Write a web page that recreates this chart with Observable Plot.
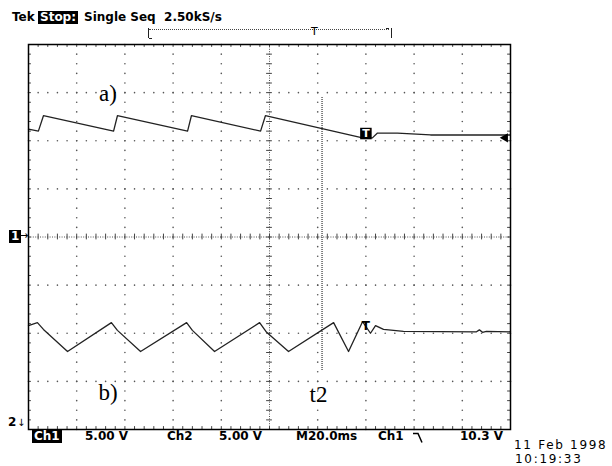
<!DOCTYPE html>
<html><head><meta charset="utf-8">
<script src="https://cdn.jsdelivr.net/npm/d3@7"></script>
<script src="https://cdn.jsdelivr.net/npm/@observablehq/plot@0.6"></script>
<style>
body{margin:0;background:#fff}
#wrap{position:relative;width:612px;height:466px;overflow:hidden;font-family:"DejaVu Sans",sans-serif;font-size:13px;color:#000;background:#fff}
#chart{position:absolute;left:0;top:0}
.t{position:absolute;white-space:pre;line-height:13px}
.b{font-weight:bold;font-size:12px}
.inv{background:#000;color:#fff;padding:0 2px}
.d{font-size:12px;line-height:12px;letter-spacing:1.7px}
</style></head>
<body><div id="wrap"><div id="chart"></div>
<div class="t b" style="left:12px;top:11px">Tek</div>
<div class="t b inv" style="left:38px;top:11px">Stop:</div>
<div class="t b" style="left:84px;top:11px">Single Seq  2.50kS/s</div>
<div style="position:absolute;left:148px;top:28px;width:242px;height:10px;border-left:1px solid #222;border-right:1px solid #222"></div>
<div style="position:absolute;left:149px;top:29px;width:240px;border-top:1px dotted #444"></div>
<div style="position:absolute;left:149px;top:38px;width:3px;border-top:1px solid #222"></div>
<div style="position:absolute;left:386px;top:28px;width:3px;border-top:1px solid #222"></div>
<div class="t" style="left:311px;top:25px;font-size:11px">T</div>
<div class="t b inv" style="left:9px;top:230px;padding:0 2px">1</div>
<div class="t" style="left:19px;top:229px;font-size:11px">→</div>
<div class="t b" style="left:8px;top:416px">2</div>
<div class="t" style="left:17px;top:416px;font-size:10px">↓</div>
<div class="t b inv" style="left:32px;top:430px">Ch1</div>
<div class="t b" style="left:85px;top:430px">5.00 V</div>
<div class="t b" style="left:167px;top:430px">Ch2</div>
<div class="t b" style="left:219px;top:430px">5.00 V</div>
<div class="t b" style="left:296px;top:430px">M20.0ms</div>
<div class="t b" style="left:378px;top:430px">Ch1</div>
<svg style="position:absolute;left:413px;top:432px" width="14" height="12"><path d="M0,1.5H5L9,10.5" fill="none" stroke="#000" stroke-width="1.5"/></svg>
<div class="t b" style="left:460px;top:430px">10.3 V</div>
<div class="t d" style="left:514px;top:439px">11 Feb 1998</div>
<div class="t d" style="left:515px;top:453px">10:19:33</div>
</div>
<script>
// Acquisition settings
const timePerDiv = 20;      // ms/div (M20.0ms)
const ch1VoltsPerDiv = 5;   // Ch1 5.00 V
const ch2VoltsPerDiv = 5;   // Ch2 5.00 V
const ch1GroundDiv = 0;     // "1→" marker at screen center
const ch2GroundDiv = -4;    // "2↓" marker at bottom edge
const hDivs = 10, vDivs = 8, minorPerDiv = 5;

// Trace a) Ch1 : time (ms) and volts
const timeA = [0, 4.1, 6.2, 35.3, 36.9, 66.0, 67.6, 96.3, 98.3, 138.6, 142.7, 144.8, 153.1, 166.8, 200];
const ch1V  = [11.2, 11.0, 12.6, 11.0, 12.6, 11.0, 12.6, 11.0, 12.6, 10.3, 10.3, 10.8, 10.8, 10.6, 10.6];

// Trace b) Ch2 : time (ms) and volts
const timeB = [0, 3.7, 6.2, 16.2, 34.4, 36.9, 46.5, 65.6, 68.0, 77.2, 95.9, 98.8, 107.9, 126.6, 132.8, 138.6, 141.9, 144.0, 147.3, 155.6, 185.9, 187.1, 188.4, 190.0, 200];
const ch2V  = [10.8, 11.1, 10.4, 8.1, 11.1, 10.3, 8.1, 11.1, 10.3, 8.1, 11.1, 10.1, 8.1, 11.1, 8.1, 11.2, 10.0, 10.8, 10.4, 10.2, 10.15, 10.35, 10.1, 10.2, 10.15];

// Trigger and cursor
const triggerTime = 140;    // ms
const triggerLevel = 10.3;  // V (Ch1)
const cursorT2 = 121.8;     // ms

// Labels
const labelTexts = ["a)", "b)", "t2"];
const labelTimes = [33, 33, 120.3];
const labelDivs  = [2.97, -3.23, -3.27];

const a = timeA.map((t, i) => ({t, div: ch1V[i] / ch1VoltsPerDiv + ch1GroundDiv}));
const b = timeB.map((t, i) => ({t, div: ch2V[i] / ch2VoltsPerDiv + ch2GroundDiv}));
const labels = labelTexts.map((s, i) => ({s, t: labelTimes[i], div: labelDivs[i]}));

const tMax = hDivs * timePerDiv;
const xMinor = d3.range(0, hDivs * minorPerDiv + 1).map(i => i * timePerDiv / minorPerDiv);
const yMinor = d3.range(0, vDivs * minorPerDiv + 1).map(i => -vDivs / 2 + i / minorPerDiv);
const xMajorInner = d3.range(1, hDivs).filter(i => i !== hDivs / 2).map(i => i * timePerDiv);
const yMajorInner = d3.range(-vDivs / 2 + 1, vDivs / 2).filter(v => v !== 0);
const hDots = yMajorInner.flatMap(y => xMinor.map(x => ({x, y})));
const vDots = xMajorInner.flatMap(x => yMinor.map(y => ({x, y})));
const tickY = 0.06, tickX = 0.06 * timePerDiv;
const xc = tMax / 2;

const chart = Plot.plot({
  width: 612, height: 466,
  marginLeft: 28, marginRight: 102, marginTop: 44, marginBottom: 37,
  x: {domain: [0, tMax], axis: null},
  y: {domain: [-vDivs / 2, vDivs / 2], axis: null},
  style: {background: "white", overflow: "visible"},
  marks: [
    Plot.dot(hDots, {x: "x", y: "y", r: 0.8, fill: "#555", stroke: null}),
    Plot.dot(vDots, {x: "x", y: "y", r: 0.8, fill: "#555", stroke: null}),
    // center axes
    Plot.ruleY([0], {stroke: "#555", strokeDasharray: "1,1.4"}),
    Plot.ruleX([xc], {stroke: "#555", strokeDasharray: "1,1.4"}),
    Plot.ruleX(xMinor, {x: d => d, y1: -tickY, y2: tickY, stroke: "#444"}),
    Plot.ruleY(yMinor, {y: d => d, x1: xc - tickX, x2: xc + tickX, stroke: "#444"}),
    // frame ticks
    Plot.ruleX(xMinor, {x: d => d, y1: vDivs / 2, y2: vDivs / 2 - tickY, stroke: "#444"}),
    Plot.ruleX(xMinor, {x: d => d, y1: -vDivs / 2, y2: -vDivs / 2 + tickY, stroke: "#444"}),
    Plot.ruleY(yMinor, {y: d => d, x1: 0, x2: tickX, stroke: "#444"}),
    Plot.ruleY(yMinor, {y: d => d, x1: tMax, x2: tMax - tickX, stroke: "#444"}),
    // cursor t2
    Plot.ruleX([cursorT2], {y1: 2.9, y2: -2.78, stroke: "#333", strokeWidth: 1.2, strokeDasharray: "1,1"}),
    // traces
    Plot.line(a, {x: "t", y: "div", stroke: "#222", strokeWidth: 1.3}),
    Plot.line(b, {x: "t", y: "div", stroke: "#222", strokeWidth: 1.3}),
    // trigger markers
    Plot.dot([{t: triggerTime, div: 2.15}], {x: "t", y: "div", symbol: "square", r: 6.5, fill: "black", stroke: null}),
    Plot.text([{t: triggerTime, div: 2.15}], {x: "t", y: "div", text: () => "T", fill: "white", fontWeight: "bold", fontSize: 11, fontFamily: "DejaVu Sans"}),
    Plot.text([{t: triggerTime, div: -1.85}], {x: "t", y: "div", text: () => "T", fill: "black", fontWeight: "bold", fontSize: 12, fontFamily: "DejaVu Sans"}),
    Plot.dot([{t: tMax - 2.2, div: triggerLevel / ch1VoltsPerDiv + ch1GroundDiv}], {x: "t", y: "div", symbol: "triangle2", rotate: -90, r: 4.5, fill: "black", stroke: null}),
    // labels
    Plot.text(labels, {x: "t", y: "div", text: "s", fontFamily: "Liberation Serif", fontSize: 23, fill: "black"}),
    Plot.frame({stroke: "black", strokeWidth: 1.5})
  ]
});
document.getElementById("chart").appendChild(chart);
</script>
</body></html>
